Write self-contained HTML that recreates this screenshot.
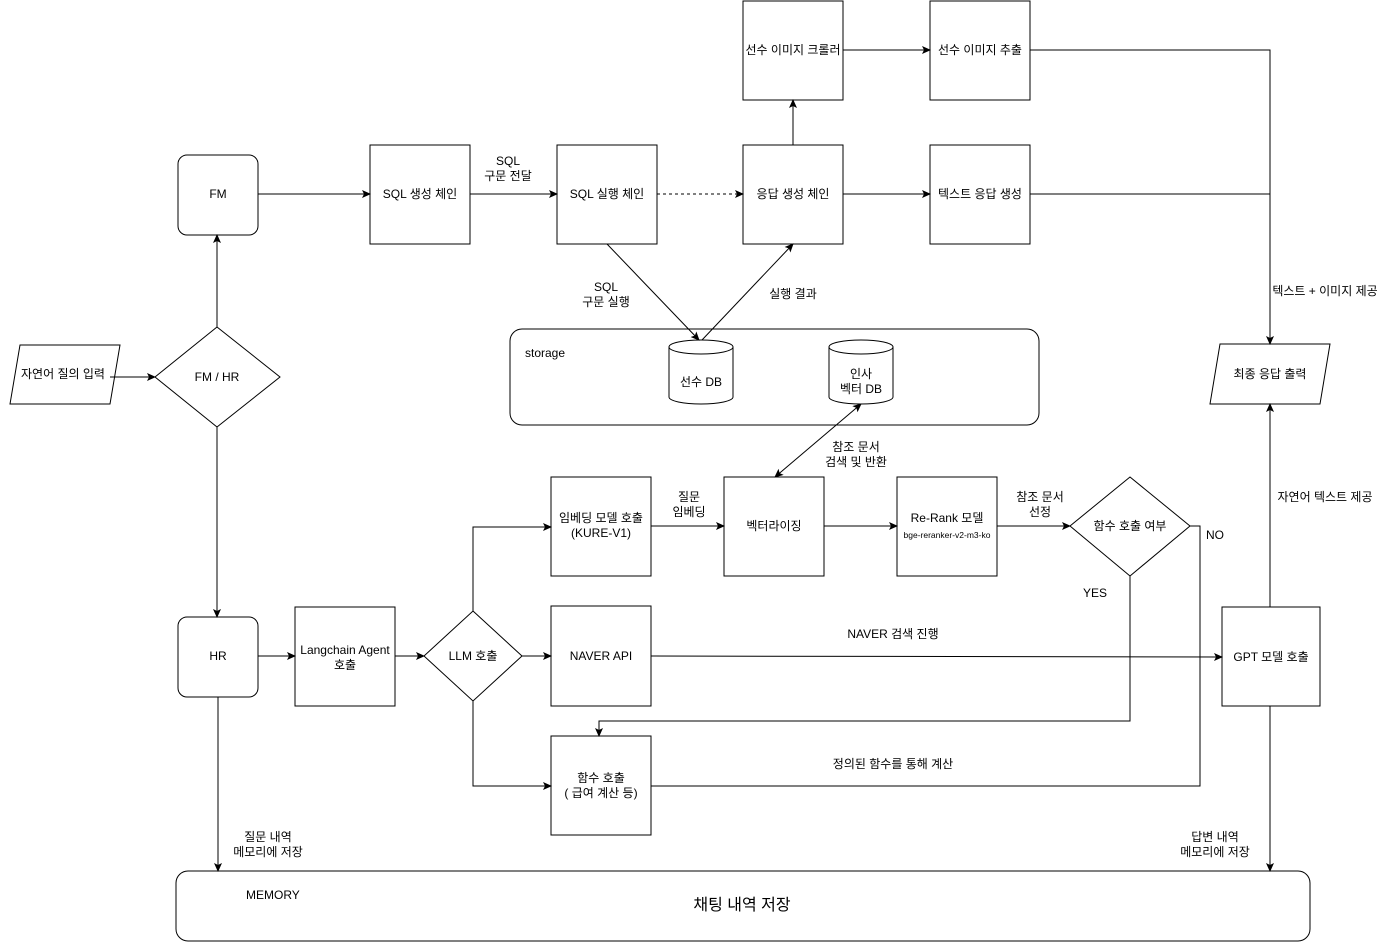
<!DOCTYPE html>
<html><head><meta charset="utf-8"><style>
body{margin:0;background:#fff}
svg{display:block}
text{font-family:"Liberation Sans","Noto Sans CJK KR",sans-serif;font-size:12px;fill:#000}
</style></head><body>
<svg width="1381" height="942" viewBox="0 0 1381 942" xmlns="http://www.w3.org/2000/svg">
<defs><marker id="a" markerWidth="10" markerHeight="10" refX="8" refY="5" orient="auto-start-reverse" markerUnits="userSpaceOnUse"><path d="M0,1 L9,5 L0,9 L2,5 z" fill="#000"/></marker></defs>
<g fill="none" stroke="#000" stroke-width="1">
<polygon points="20,345 120,345 110,404 10,404" fill="#fff"/>
<polygon points="217,327 280,377 217,427 155,377" fill="#fff"/>
<rect x="178" y="155" width="80" height="80" rx="9"/>
<rect x="178" y="617" width="80" height="80" rx="9"/>
<rect x="370" y="145" width="100" height="99"/>
<rect x="557" y="145" width="100" height="99"/>
<rect x="743" y="145" width="100" height="99"/>
<rect x="930" y="145" width="100" height="99"/>
<rect x="743" y="1" width="100" height="99"/>
<rect x="930" y="1" width="100" height="99"/>
<polygon points="1220,344 1330,344 1320,404 1210,404"/>
<rect x="510" y="329" width="529" height="96" rx="12"/>
<rect x="551" y="477" width="100" height="99"/>
<rect x="724" y="477" width="100" height="99"/>
<rect x="897" y="477" width="100" height="99"/>
<polygon points="1130,477 1190,526 1130,576 1070,526"/>
<rect x="1222" y="607" width="98" height="99"/>
<rect x="551" y="606" width="100" height="100"/>
<rect x="295" y="607" width="100" height="99"/>
<polygon points="473,611 522,656 473,701 424,656"/>
<rect x="551" y="736" width="100" height="99"/>
<rect x="176" y="871" width="1134" height="70" rx="12"/>
<path d="M669,347 v50 a32,7 0 0 0 64,0 v-50"/><ellipse cx="701" cy="347" rx="32" ry="7"/>
<path d="M829,347 v50 a32,7 0 0 0 64,0 v-50"/><ellipse cx="861" cy="347" rx="32" ry="7"/>
<line x1="110" y1="377" x2="155" y2="377" marker-end="url(#a)"/>
<line x1="217" y1="327" x2="217" y2="235" marker-end="url(#a)"/>
<line x1="217" y1="427" x2="217" y2="617" marker-end="url(#a)"/>
<line x1="258" y1="194" x2="370" y2="194" marker-end="url(#a)"/>
<line x1="470" y1="194" x2="557" y2="194" marker-end="url(#a)"/>
<line x1="657" y1="194" x2="743" y2="194" stroke-dasharray="3,3" marker-end="url(#a)"/>
<line x1="843" y1="194" x2="930" y2="194" marker-end="url(#a)"/>
<line x1="843" y1="50" x2="930" y2="50" marker-end="url(#a)"/>
<line x1="793" y1="145" x2="793" y2="100" marker-end="url(#a)"/>
<polyline points="1030,50 1270,50 1270,344" marker-end="url(#a)"/>
<line x1="1030" y1="194" x2="1270" y2="194"/>
<line x1="607" y1="244" x2="699" y2="340" marker-end="url(#a)"/>
<line x1="702" y1="340" x2="793" y2="244" marker-end="url(#a)"/>
<line x1="861" y1="404" x2="775" y2="477" marker-start="url(#a)" marker-end="url(#a)"/>
<line x1="651" y1="526" x2="724" y2="526" marker-end="url(#a)"/>
<line x1="824" y1="526" x2="897" y2="526" marker-end="url(#a)"/>
<line x1="997" y1="526" x2="1070" y2="526" marker-end="url(#a)"/>
<polyline points="1190,526 1200,526 1200,786 651,786"/>
<polyline points="1130,576 1130,721 599,721 599,736" marker-end="url(#a)"/>
<line x1="651" y1="656" x2="1222" y2="657" marker-end="url(#a)"/>
<line x1="1270" y1="607" x2="1270" y2="404" marker-end="url(#a)"/>
<line x1="1270" y1="706" x2="1270" y2="871" marker-end="url(#a)"/>
<line x1="258" y1="656" x2="295" y2="656" marker-end="url(#a)"/>
<line x1="395" y1="656" x2="424" y2="656" marker-end="url(#a)"/>
<line x1="522" y1="656" x2="551" y2="656" marker-end="url(#a)"/>
<polyline points="473,611 473,527 551,527" marker-end="url(#a)"/>
<polyline points="473,701 473,786 551,786" marker-end="url(#a)"/>
<line x1="218" y1="697" x2="218" y2="871" marker-end="url(#a)"/>
</g>
<g text-anchor="middle">
<text x="63" y="378">자연어 질의 입력</text>
<text x="217" y="381">FM / HR</text>
<text x="218" y="198">FM</text>
<text x="218" y="660">HR</text>
<text x="420" y="198">SQL 생성 체인</text>
<text x="607" y="198">SQL 실행 체인</text>
<text x="793" y="198">응답 생성 체인</text>
<text x="980" y="198">텍스트 응답 생성</text>
<text x="793" y="54">선수 이미지 크롤러</text>
<text x="980" y="54">선수 이미지 추출</text>
<text x="508" y="165">SQL</text><text x="508" y="180">구문 전달</text>
<text x="606" y="291">SQL</text><text x="606" y="306">구문 실행</text>
<text x="793" y="298">실행 결과</text>
<text x="1325" y="295">텍스트 + 이미지 제공</text>
<text x="1270" y="378">최종 응답 출력</text>
<text x="701" y="386">선수 DB</text>
<text x="861" y="378">인사</text><text x="861" y="393">벡터 DB</text>
<text x="856" y="451">참조 문서</text><text x="856" y="466">검색 및 반환</text>
<text x="601" y="522">임베딩 모델 호출</text><text x="601" y="537">(KURE-V1)</text>
<text x="689" y="501">질문</text><text x="689" y="516">임베딩</text>
<text x="774" y="530">벡터라이징</text>
<text x="947" y="522">Re-Rank 모델</text>
<text x="947" y="538" style="font-size:8.5px">bge-reranker-v2-m3-ko</text>
<text x="1040" y="501">참조 문서</text><text x="1040" y="516">선정</text>
<text x="1130" y="530">함수 호출 여부</text>
<text x="1215" y="539">NO</text>
<text x="1095" y="597">YES</text>
<text x="1325" y="501">자연어 텍스트 제공</text>
<text x="893" y="638">NAVER 검색 진행</text>
<text x="601" y="660">NAVER API</text>
<text x="1271" y="661">GPT 모델 호출</text>
<text x="345" y="654">Langchain Agent</text><text x="345" y="669">호출</text>
<text x="473" y="660">LLM 호출</text>
<text x="601" y="782">함수 호출</text><text x="601" y="797">( 급여 계산 등)</text>
<text x="893" y="768">정의된 함수를 통해 계산</text>
<text x="268" y="841">질문 내역</text><text x="268" y="856">메모리에 저장</text>
<text x="1215" y="841">답변 내역</text><text x="1215" y="856">메모리에 저장</text>
<text x="742" y="910" style="font-size:16px">채팅 내역 저장</text>
</g>
<text x="525" y="357">storage</text>
<text x="246" y="899">MEMORY</text>
</svg>
</body></html>
